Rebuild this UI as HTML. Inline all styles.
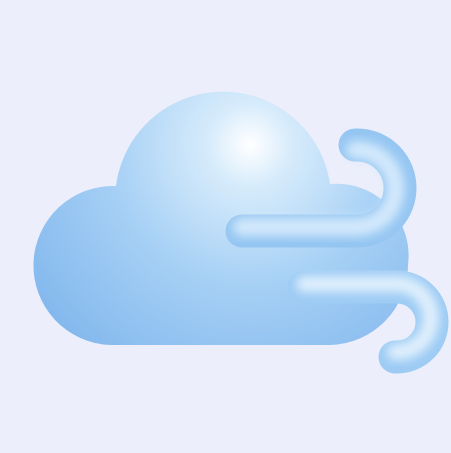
<!DOCTYPE html>
<html><head><style>html,body{margin:0;padding:0;background:#eceefb;}svg{display:block}</style></head>
<body>
<svg width="451" height="453" viewBox="0 0 451 453" xmlns="http://www.w3.org/2000/svg">
<defs>
<radialGradient id="cg" cx="250" cy="145" r="280" gradientUnits="userSpaceOnUse">
<stop offset="0" stop-color="#ffffff"/>
<stop offset="0.15" stop-color="#d6ebfb"/>
<stop offset="0.5" stop-color="#a6d0f5"/>
<stop offset="1" stop-color="#7fb5ec"/>
</radialGradient>
<linearGradient id="wg" x1="0" y1="0" x2="0" y2="1">
<stop offset="0" stop-color="#dcedfc"/>
<stop offset="0.55" stop-color="#b8dbf8"/>
<stop offset="1" stop-color="#84bbee"/>
</linearGradient>
<filter id="bl" x="-20%" y="-20%" width="140%" height="140%"><feGaussianBlur stdDeviation="5"/></filter>
<clipPath id="c1"><path d="M242 231 H357 A43 43 0 0 0 357 145 H355" fill="none" stroke="#000" stroke-width="33" stroke-linecap="round"/></clipPath>
</defs>
<rect width="451" height="453" fill="#eceefb"/>
<path d="M110 345 A78 78 0 0 1 116 186 A108 108 0 0 1 330 184 A72 72 0 0 1 408 265 A80 80 0 0 1 330 345 Z" fill="url(#cg)"/>
<path d="M242 231 H357 A43 43 0 0 0 357 145 H355" fill="none" stroke="#95c6f2" stroke-width="33" stroke-linecap="round"/>
<path d="M242 227 H357 A38 38 0 0 0 357 150 H355" fill="none" stroke="#d3e9fc" stroke-width="18" stroke-linecap="round" filter="url(#bl)"/>
<path d="M242 231 H335" fill="none" stroke="url(#wg)" stroke-width="33" stroke-linecap="round"/>
<path d="M304 287 H397 A35 35 0 0 1 397 357 H395" fill="none" stroke="#9dcbf4" stroke-width="33" stroke-linecap="round"/>
<path d="M304 284 H397 A30 30 0 0 1 397 352 H395" fill="none" stroke="#e0f0fd" stroke-width="16" stroke-linecap="round" filter="url(#bl)"/>
<path d="M304 287 H385" fill="none" stroke="url(#wg)" stroke-width="33" stroke-linecap="round"/>
</svg>
</body></html>
